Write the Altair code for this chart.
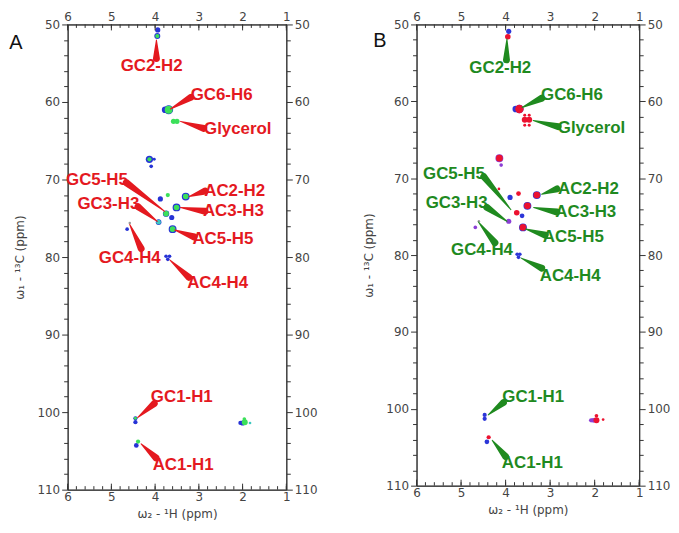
import altair as alt
import pandas as pd

# ---------------- Panel A peaks (1H ppm, 13C ppm, spectrum, intensity) -------------
a_h = [3.94, 3.95, 3.95, 3.77, 3.69, 3.69, 3.58, 3.50, 4.13, 4.13, 4.09, 4.02, 3.88, 3.71,
       3.30, 3.30, 3.51, 3.51, 3.75, 3.75, 3.62, 3.92, 3.92, 3.60, 3.60, 4.64, 4.58, 3.75,
       3.67, 3.71, 4.45, 4.45, 4.45, 4.43, 4.39, 2.05, 2.00, 1.95, 1.96, 1.83]
a_c = [50.7, 51.5, 51.5, 61.0, 61.0, 61.0, 62.5, 62.5, 67.4, 67.4, 68.3, 67.4, 72.5, 72.0,
       72.2, 72.2, 73.6, 73.6, 74.4, 74.4, 74.9, 75.5, 75.5, 76.4, 76.4, 76.4, 75.6, 79.9,
       79.9, 80.3, 100.8, 101.3, 100.8, 104.3, 103.8, 101.4, 101.4, 101.3, 100.9, 101.4]
a_s = ["S1", "S1", "S2", "S1", "S1", "S2", "S2", "S2", "S1", "S2", "S1", "S1", "S1", "S2",
       "S1", "S2", "S1", "S2", "S1", "S2", "S1", "S1", "S3", "S1", "S2", "S1", "S4", "S1",
       "S1", "S1", "S1", "S1", "S2", "S1", "S2", "S1", "S1", "S2", "S2", "S3"]
a_i = [3, 4, 2, 5, 9, 7, 3, 3, 6, 2, 1.5, 1, 3, 2, 7, 3.5, 7, 3.5, 4.5, 3.5, 3, 3.5, 2.5, 7,
       3.5, 1.5, 0.7, 1.5, 1.5, 1.5, 2, 2, 1, 2.5, 2, 2, 3, 4, 1.5, 0.8]

# ---------------- Panel B peaks -------------
b_h = [3.93, 3.95, 3.77, 3.69, 3.69, 3.57, 3.47, 3.57, 3.47, 3.57, 3.47, 4.14, 4.14, 4.10,
       4.15, 3.90, 3.71, 3.30, 3.30, 3.51, 3.51, 3.75, 3.63, 3.93, 3.61, 3.61, 4.68, 4.60,
       3.74, 3.68, 3.71, 4.47, 4.47, 4.42, 4.38, 2.08, 2.03, 1.96, 1.96, 1.81]
b_c = [50.9, 51.6, 61.0, 61.0, 61.0, 62.4, 62.4, 61.8, 61.8, 63.1, 63.1, 67.4, 67.4, 68.3,
       71.4, 72.5, 72.0, 72.2, 72.2, 73.6, 73.6, 74.5, 74.9, 75.6, 76.4, 76.4, 76.4, 75.6,
       79.9, 79.9, 80.3, 100.8, 101.3, 104.3, 103.7, 101.5, 101.5, 101.5, 100.9, 101.4]
b_s = ["S1", "S2", "S1", "S1", "S2", "S2", "S2", "S2", "S2", "S2", "S2", "S3", "S2", "S3",
       "S2", "S1", "S2", "S1", "S2", "S1", "S2", "S2", "S1", "S3", "S1", "S2", "S3", "S4",
       "S1", "S1", "S1", "S1", "S1", "S1", "S2", "S3", "S3", "S2", "S2", "S2"]
b_i = [3, 3.5, 5, 8, 8, 4, 4, 1, 1, 1, 1, 7, 5, 1.5, 0.8, 3, 2.5, 7, 5, 7, 5, 3.5, 2.5, 3,
       7, 5, 1.5, 0.7, 1.5, 1.5, 1.5, 2, 2, 2.5, 2, 2, 2.5, 4, 1.5, 0.8]

# ---------------- Annotations -------------
labels = ["GC2-H2", "GC6-H6", "Glycerol", "GC5-H5", "GC3-H3", "GC4-H4",
          "AC2-H2", "AC3-H3", "AC5-H5", "AC4-H4", "GC1-H1", "AC1-H1"]
# panel A: label centre, wedge base, wedge tip (ppm)
a_lab_h = [4.08, 2.48, 2.11, 5.33, 5.07, 4.58, 2.18, 2.21, 2.45, 2.57, 3.39, 3.36]
a_lab_c = [55.4, 59.1, 63.5, 70.1, 73.2, 80.1, 71.5, 74.1, 77.7, 83.3, 98.1, 106.8]
a_base_h = [3.97, 3.18, 2.89, 4.66, 4.39, 4.32, 2.86, 2.86, 3.11, 3.23, 4.02, 3.98]
a_base_c = [54.4, 59.4, 63.4, 70.4, 73.5, 78.9, 71.5, 74.1, 77.4, 82.6, 98.9, 105.9]
a_tip_h = [3.97, 3.65, 3.42, 3.78, 3.95, 4.58, 3.22, 3.42, 3.55, 3.66, 4.40, 4.32]
a_tip_c = [52.0, 60.9, 62.5, 74.1, 75.4, 75.8, 72.2, 73.6, 76.5, 80.4, 100.7, 104.1]
# panel B
b_lab_h = [4.12, 2.51, 2.07, 5.16, 5.10, 4.53, 2.14, 2.20, 2.48, 2.55, 3.38, 3.40]
b_lab_c = [55.7, 59.2, 63.5, 69.5, 73.2, 79.4, 71.4, 74.4, 77.7, 82.7, 98.5, 107.1]
b_base_h = [3.98, 3.19, 2.82, 4.49, 4.42, 4.24, 2.85, 2.85, 3.11, 3.19, 4.05, 4.00]
b_base_c = [54.6, 59.6, 63.3, 69.8, 73.8, 78.4, 71.4, 74.4, 77.4, 81.7, 99.2, 106.2]
b_tip_h = [3.97, 3.63, 3.38, 3.88, 3.97, 4.61, 3.19, 3.37, 3.55, 3.65, 4.39, 4.30]
b_tip_c = [51.9, 60.8, 62.5, 74.1, 75.6, 75.7, 72.1, 73.8, 76.6, 80.4, 100.8, 104.1]

x_major = [1, 2, 3, 4, 5, 6]
x_minor = [round(1 + 0.2 * k, 1) for k in range(26)]
y_ticks = list(range(50, 111, 2))

AXIS_FONT = "DejaVu Sans"
AXC = "#444444"


def panel(ph, pc, ps, pi, lh, lc, bh, bc, th, tc, kind_colors, lab_color, letter,
          letter_xy, width, height):
    xs = alt.Scale(domain=[6, 1], nice=False, zero=False)
    ys = alt.Scale(domain=[50, 110], reverse=True, nice=False, zero=False)

    peaks = pd.DataFrame({"h": ph, "c": pc, "s": ps, "i": pi})
    labs = pd.DataFrame({"t": labels, "h": lh, "c": lc})
    rows = []
    for k, t in enumerate(labels):
        rows.append({"t": t, "h": bh[k], "c": bc[k], "w": 1.0, "o": 0})
        rows.append({"t": t, "h": th[k], "c": tc[k], "w": 0.0, "o": 1})
    wedges = pd.DataFrame(rows)

    common_y = dict(values=y_ticks,
                    labelExpr="datum.value % 10 === 0 ? datum.label : ''",
                    labelOverlap=False, labelFlush=False,
                    tickSize={"condition": {"test": "datum.value % 10 === 0", "value": 6}, "value": 4},
                    tickColor="#333333", domainColor="#333333",
                    labelFont=AXIS_FONT, labelFontSize=12, labelColor=AXC, labelPadding=2,
                    grid=False)
    common_x = dict(values=x_major, ticks=False, tickSize=0, labelOverlap=False, labelFlush=False,
                    domainColor="#333333", labelFont=AXIS_FONT, labelFontSize=12,
                    labelColor=AXC, grid=False)

    pts = alt.Chart(peaks).mark_point(filled=True, opacity=1, strokeWidth=0).encode(
        x=alt.X("h:Q", scale=xs, axis=alt.Axis(orient="bottom", title="ω₂ - ¹H (ppm)",
                                               titleFont=AXIS_FONT, titleFontSize=12,
                                               titleFontWeight="normal", titleColor=AXC,
                                               titlePadding=6, labelPadding=2, **common_x)),
        y=alt.Y("c:Q", scale=ys, axis=alt.Axis(orient="left", title="ω₁ - ¹³C (ppm)",
                                               titleFont=AXIS_FONT, titleFontSize=12,
                                               titleFontWeight="normal", titleColor=AXC,
                                               titlePadding=10, **common_y)),
        color=alt.Color("s:N", scale=alt.Scale(domain=["S1", "S2", "S3", "S4"], range=kind_colors),
                        legend=None),
        size=alt.Size("i:Q", scale=alt.Scale(domain=[0, 10], range=[0, 90]), legend=None),
    )

    wedge = alt.Chart(wedges).mark_trail(color=lab_color).encode(
        x=alt.X("h:Q", scale=xs, axis=None),
        y=alt.Y("c:Q", scale=ys, axis=None),
        size=alt.Size("w:Q", scale=alt.Scale(domain=[0, 1], range=[0, 7]), legend=None),
        detail="t:N",
        order="o:Q",
    )

    text = alt.Chart(labs).mark_text(font="Liberation Sans", fontWeight="bold", fontSize=17,
                                     color=lab_color, baseline="middle", align="center").encode(
        x=alt.X("h:Q", scale=xs, axis=alt.Axis(orient="top", title=None, labelPadding=1, **common_x)),
        y=alt.Y("c:Q", scale=ys, axis=alt.Axis(orient="right", title=None, **common_y)),
        text="t:N",
    )

    maj = pd.DataFrame({"v": x_major})
    mino = pd.DataFrame({"v": x_minor})

    def tick_layer(df, y0, y1):
        return alt.Chart(df).mark_rule(color="#333333", strokeWidth=1).encode(
            x=alt.X("v:Q", scale=xs, axis=None), y=alt.value(y0), y2=alt.value(y1))

    ticks = [tick_layer(maj, 0, 6), tick_layer(mino, 0, 3.5),
             tick_layer(maj, height, height - 6), tick_layer(mino, height, height - 3.5)]

    let = alt.Chart(pd.DataFrame({"t": [letter]})).mark_text(
        font="Liberation Sans", fontSize=20, color="#111111", align="center",
        baseline="middle").encode(text="t:N", x=alt.value(letter_xy[0]), y=alt.value(letter_xy[1]))

    return alt.layer(pts, wedge, text, *ticks, let).resolve_axis(
        x="independent", y="independent").resolve_scale(size="independent").properties(
        width=width, height=height)


pA = panel(a_h, a_c, a_s, a_i, a_lab_h, a_lab_c, a_base_h, a_base_c, a_tip_h, a_tip_c,
           ["#2633d6", "#3be05a", "#3cc8c0", "#9a9a9a"], "#e4191f", "A", (-52, 19), 220, 468)
pB = panel(b_h, b_c, b_s, b_i, b_lab_h, b_lab_c, b_base_h, b_base_c, b_tip_h, b_tip_c,
           ["#2c36d8", "#ec1230", "#8b3fd6", "#9a9a9a"], "#1f8a1f", "B", (-37, 17), 224, 464)

chart = alt.hconcat(pA, pB, spacing=44).resolve_scale(
    color="independent", size="independent").properties(padding=0).configure_view(
    stroke="#333333", strokeWidth=1)

chart.save("out.html", embed_options={"renderer": "svg", "actions": False})
